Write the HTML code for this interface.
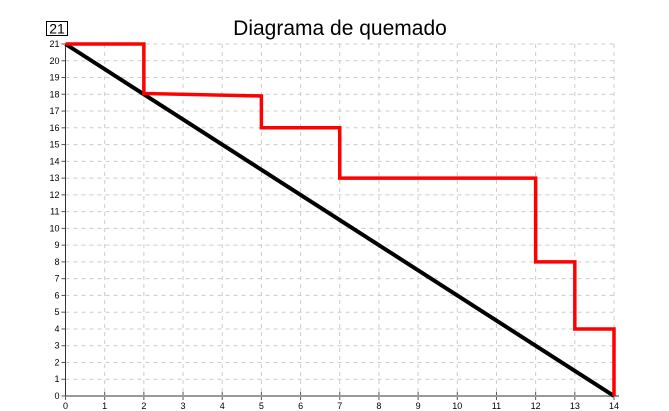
<!DOCTYPE html>
<html><head><meta charset="utf-8"><style>
body{margin:0;background:#fff;font-family:"Liberation Sans",sans-serif}
svg{display:block}
</style></head><body>
<svg width="669" height="411" id="c">
<text x="340" y="35" text-anchor="middle" font-size="21">Diagrama de quemado</text>
<rect x="46.5" y="21.5" width="21" height="14" fill="#fff" stroke="#000"/>
<text x="57" y="33.5" text-anchor="middle" font-size="14">21</text>
<g id="grid"></g>
<g id="axes"></g>
<g id="series"></g>
</svg>
<script>
const idealX=[0,14];
const idealY=[21,0];
const actualX=[0,2,2,5,5,7,7,12,12,13,13,14,14];
const actualY=[21,21,18.05,17.9,16,16,13,13,8,8,4,4,0];
const xTicks=[0,1,2,3,4,5,6,7,8,9,10,11,12,13,14];
const yTicks=[0,1,2,3,4,5,6,7,8,9,10,11,12,13,14,15,16,17,18,19,20,21];
const X0=65.5,X1=614,Y0=396,Y1=44;
const sx=v=>X0+(X1-X0)*v/14, sy=v=>Y0-(Y0-Y1)*v/21;
const NS="http://www.w3.org/2000/svg";
function mk(p,t,a){const e=document.createElementNS(NS,t);for(const k in a)e.setAttribute(k,a[k]);p.appendChild(e);return e;}
const grid=document.getElementById('grid'),axes=document.getElementById('axes'),ser=document.getElementById('series');
xTicks.forEach(v=>{
 if(v>0){const l=mk(grid,'line',{x1:sx(v),x2:sx(v),y1:Y1,y2:Y0,stroke:'#ccc','stroke-dasharray':'4,4'});
 
 }
 const tk=mk(axes,'line',{x1:sx(v),x2:sx(v),y1:Y0-4,y2:Y0+4,stroke:'#555'});
 
 
 const t=mk(axes,'text',{x:sx(v),y:Y0+13,'text-anchor':'middle','font-size':9});t.textContent=v;
 
 
});
yTicks.forEach(v=>{
 if(v>0){const l=mk(grid,'line',{x1:X0,x2:X1,y1:sy(v),y2:sy(v),stroke:'#ccc','stroke-dasharray':'4,4'});
 
 }
 const tk=mk(axes,'line',{x1:X0-4,x2:X0,y1:sy(v),y2:sy(v),stroke:'#555'});
 
 
 const t=mk(axes,'text',{x:X0-6,y:sy(v)+3,'text-anchor':'end','font-size':9});t.textContent=v;
 
 
});
const xa=mk(axes,'line',{x1:X0,x2:X1+5,y1:Y0,y2:Y0,stroke:'#999','stroke-width':2});


const ya=mk(axes,'line',{x1:X0,x2:X0,y1:Y1,y2:Y0,stroke:'#333','stroke-width':1});


const ideal=mk(ser,'polyline',{points:idealX.map((x,i)=>sx(x)+','+sy(idealY[i])).join(' '),fill:'none',stroke:'#000','stroke-width':4});


const act=mk(ser,'polyline',{points:actualX.map((x,i)=>sx(x)+','+sy(actualY[i])).join(' '),fill:'none',stroke:'#f00','stroke-width':3.5});


</script>
</body></html>
